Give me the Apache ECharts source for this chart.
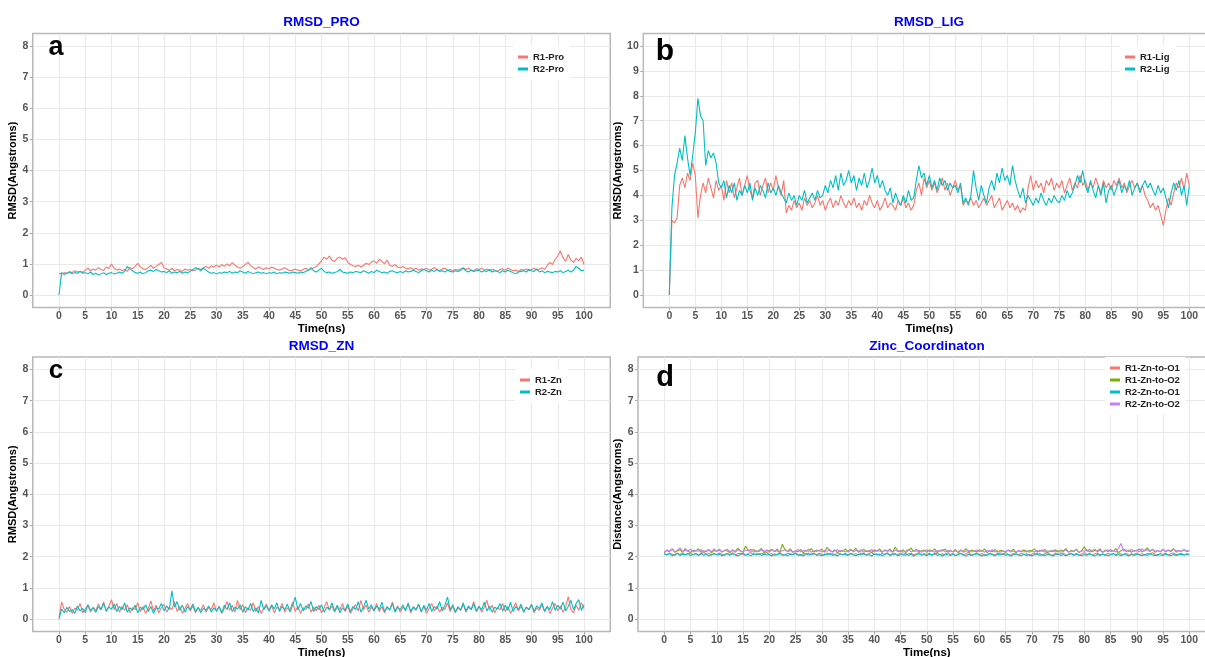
<!DOCTYPE html>
<html><head><meta charset="utf-8">
<script src="https://cdn.jsdelivr.net/npm/echarts@6/dist/echarts.min.js"></script>
<style>html,body{margin:0;padding:0;background:#fff}#c{width:1205px;height:657px}</style>
</head><body><div id="c"></div><script>
// ---------- DATA ----------
const sampleStepNs = 0.5; // one value every 0.5 ns, 0..100 ns
const xTickValues = [0,5,10,15,20,25,30,35,40,45,50,55,60,65,70,75,80,85,90,95,100];
const yTicks8 = [0,1,2,3,4,5,6,7,8];
const yTicks10 = [0,1,2,3,4,5,6,7,8,9,10];
const panelTitles = ['RMSD_PRO','RMSD_LIG','RMSD_ZN','Zinc_Coordinaton'];
const panelLetters = ['a','b','c','d'];
const yNames = ['RMSD(Angstroms)','RMSD(Angstroms)','RMSD(Angstroms)','Distance(Angstroms)'];
const xName = 'Time(ns)';

const r1Pro = [0.70,0.68,0.72,0.70,0.75,0.72,0.78,0.74,0.76,0.73,
0.80,0.86,0.78,0.84,0.80,0.88,0.82,0.79,0.90,0.85,
1.00,0.86,0.80,0.84,0.78,0.82,0.76,0.88,0.85,0.92,
1.02,0.90,0.84,0.82,0.88,0.95,0.86,0.92,0.98,1.05,
0.88,0.84,0.80,0.86,0.78,0.82,0.80,0.76,0.84,0.80,
0.82,0.78,0.80,0.86,0.82,0.88,0.92,0.86,0.94,0.90,
0.96,0.90,0.98,0.92,1.00,0.94,1.04,0.96,0.90,0.86,
0.92,0.98,1.05,0.94,0.88,0.84,0.90,0.86,0.82,0.88,
0.84,0.90,0.86,0.82,0.80,0.84,0.88,0.82,0.78,0.80,
0.84,0.80,0.78,0.82,0.86,0.80,0.84,0.88,0.92,1.00,
1.10,1.22,1.15,1.25,1.12,1.08,1.18,1.22,1.15,1.20,
1.05,0.98,0.94,0.92,0.96,0.90,0.95,1.02,0.98,1.06,
1.10,1.02,1.15,1.08,1.00,1.12,0.96,0.92,0.98,0.90,
0.88,0.92,0.86,0.84,0.88,0.82,0.86,0.80,0.84,0.82,
0.86,0.80,0.84,0.88,0.82,0.78,0.84,0.86,0.80,0.82,
0.78,0.82,0.80,0.84,0.88,0.82,0.86,0.80,0.78,0.84,
0.82,0.86,0.80,0.84,0.78,0.82,0.80,0.76,0.82,0.84,
0.80,0.86,0.82,0.78,0.80,0.76,0.82,0.80,0.84,0.78,
0.82,0.86,0.80,0.84,0.88,0.82,0.95,1.05,0.98,1.15,
1.25,1.42,1.20,1.08,1.30,1.12,1.05,1.18,1.10,1.22,
0.98];
const r2Pro = [0.00,0.72,0.66,0.70,0.74,0.68,0.72,0.70,0.76,0.70,
0.72,0.68,0.74,0.66,0.70,0.64,0.68,0.72,0.66,0.70,
0.72,0.68,0.70,0.74,0.70,0.76,0.92,0.84,0.78,0.72,
0.70,0.74,0.68,0.72,0.78,0.80,0.76,0.82,0.78,0.74,
0.76,0.72,0.78,0.70,0.74,0.72,0.76,0.70,0.74,0.72,
0.76,0.82,0.88,0.84,0.78,0.86,0.80,0.74,0.70,0.72,
0.68,0.72,0.70,0.74,0.72,0.76,0.70,0.74,0.72,0.78,
0.74,0.70,0.76,0.72,0.68,0.72,0.74,0.70,0.72,0.68,
0.72,0.70,0.74,0.68,0.72,0.70,0.74,0.72,0.70,0.74,
0.72,0.70,0.74,0.72,0.76,0.80,0.88,0.78,0.74,0.80,
0.86,0.76,0.72,0.74,0.70,0.72,0.76,0.82,0.74,0.72,
0.70,0.74,0.72,0.76,0.74,0.72,0.78,0.74,0.70,0.76,
0.72,0.80,0.76,0.72,0.74,0.70,0.76,0.78,0.74,0.72,
0.76,0.72,0.78,0.74,0.76,0.80,0.76,0.72,0.78,0.82,
0.78,0.74,0.80,0.76,0.82,0.76,0.78,0.74,0.80,0.76,
0.74,0.78,0.76,0.80,0.86,0.78,0.74,0.80,0.76,0.78,
0.80,0.74,0.78,0.76,0.82,0.74,0.78,0.76,0.72,0.78,
0.74,0.80,0.76,0.72,0.68,0.74,0.76,0.78,0.74,0.82,
0.78,0.76,0.84,0.74,0.78,0.72,0.76,0.74,0.72,0.76,
0.74,0.78,0.72,0.76,0.80,0.74,0.80,0.92,0.86,0.78,
0.80];
const r1Lig = [0.00,3.00,2.90,3.10,4.40,4.70,4.30,4.90,4.60,5.30,
4.80,3.10,4.00,4.50,4.10,4.70,4.30,3.90,4.60,4.20,
4.40,3.80,4.60,4.10,4.50,3.90,4.30,4.70,4.00,4.40,
4.80,4.20,3.90,4.50,4.60,4.00,4.40,4.70,4.10,4.50,
4.20,4.80,4.30,4.00,4.60,3.30,3.60,3.40,3.80,3.50,
3.70,3.40,3.90,3.60,3.80,3.50,3.70,4.00,3.60,3.80,
3.40,3.70,3.90,3.50,3.80,3.60,4.00,3.70,3.50,3.80,
3.60,3.90,3.50,3.70,3.40,3.80,3.60,4.00,3.70,3.50,
3.80,3.40,3.60,3.90,3.50,3.70,3.60,3.40,3.80,3.60,
3.90,3.50,3.70,3.40,3.60,4.20,4.50,4.00,4.70,4.30,
4.60,4.20,4.50,4.10,4.40,4.70,4.20,4.50,4.00,4.30,
4.60,4.20,4.40,3.60,3.80,3.70,3.90,3.60,3.80,3.50,
3.70,3.90,3.60,3.80,4.00,3.50,3.70,3.90,3.40,3.60,
3.80,3.50,3.70,3.40,3.60,3.30,3.50,3.40,4.30,4.80,
4.20,4.60,4.30,4.50,4.10,4.60,4.40,4.70,4.20,4.50,
4.30,4.60,4.10,4.40,4.70,4.20,4.50,4.30,4.80,4.40,
4.60,4.20,4.50,4.30,4.70,4.40,4.10,4.60,4.30,4.50,
4.20,4.60,4.40,4.70,4.30,4.50,4.10,4.40,4.60,4.30,
4.50,4.20,4.40,4.00,3.80,3.50,3.70,3.40,3.60,3.20,
2.80,3.40,3.90,3.60,4.10,4.50,4.30,4.70,4.20,4.90,
4.40];
const r2Lig = [0.00,3.50,4.80,5.30,5.90,5.40,6.40,5.50,4.80,5.60,
6.50,7.90,7.20,7.00,5.20,5.80,5.50,5.70,5.30,4.50,
4.30,4.60,3.90,4.40,4.10,4.50,3.80,4.20,4.00,4.40,
4.10,4.50,3.80,4.30,4.00,4.40,4.20,3.90,4.50,4.10,
4.30,4.00,4.40,4.10,3.90,3.70,4.10,3.80,4.00,3.60,
4.00,3.80,4.20,3.70,3.90,4.10,3.80,4.20,3.90,4.00,
4.40,4.10,4.60,4.30,4.80,4.20,4.90,4.40,4.60,5.00,
4.50,4.80,4.20,4.70,4.40,4.90,4.30,4.60,5.10,4.50,
4.80,4.30,4.60,4.20,4.00,4.30,3.70,4.10,3.80,3.60,
4.00,3.70,4.20,3.80,3.90,4.60,5.20,4.70,4.90,4.40,
4.80,4.30,4.60,4.20,4.70,4.40,4.60,4.20,4.50,4.30,
4.40,4.10,4.50,3.70,3.90,3.60,4.00,5.00,4.30,3.80,
4.40,4.00,3.70,4.30,4.60,4.20,4.90,4.50,5.10,4.60,
4.80,4.40,5.20,4.60,4.20,3.90,4.30,3.70,4.00,3.80,
3.60,3.90,3.70,4.10,3.80,3.60,3.90,3.70,4.00,3.80,
3.70,4.00,3.80,4.20,3.90,4.10,4.40,4.80,4.50,5.00,
4.40,4.10,4.60,4.20,3.90,4.40,4.00,4.50,3.70,4.20,
4.40,4.00,4.30,4.60,4.10,4.40,4.20,4.60,4.00,4.30,
4.50,4.10,4.40,4.60,4.30,4.50,4.20,4.00,4.40,4.10,
4.30,3.90,3.50,4.10,4.50,4.20,4.60,4.00,4.40,3.60,
4.40];
const r1Zn = [0.05,0.55,0.30,0.22,0.40,0.18,0.35,0.28,0.50,0.20,
0.32,0.45,0.22,0.38,0.26,0.48,0.30,0.55,0.24,0.42,
0.62,0.30,0.50,0.22,0.40,0.28,0.46,0.20,0.36,0.30,
0.52,0.24,0.40,0.18,0.34,0.58,0.26,0.44,0.20,0.36,
0.48,0.22,0.38,0.30,0.56,0.24,0.40,0.18,0.34,0.50,
0.26,0.42,0.20,0.36,0.28,0.46,0.22,0.38,0.30,0.52,
0.24,0.40,0.18,0.34,0.56,0.28,0.44,0.22,0.60,0.30,
0.46,0.20,0.36,0.28,0.52,0.24,0.40,0.18,0.34,0.48,
0.26,0.42,0.20,0.38,0.30,0.50,0.22,0.36,0.28,0.54,
0.24,0.40,0.18,0.36,0.30,0.48,0.22,0.38,0.26,0.44,
0.20,0.36,0.56,0.28,0.42,0.22,0.38,0.30,0.50,0.24,
0.40,0.18,0.34,0.46,0.26,0.60,0.30,0.44,0.22,0.38,
0.28,0.50,0.24,0.40,0.20,0.36,0.30,0.54,0.26,0.42,
0.22,0.38,0.30,0.48,0.20,0.36,0.28,0.46,0.24,0.40,
0.18,0.34,0.50,0.26,0.42,0.22,0.38,0.30,0.52,0.24,
0.40,0.20,0.36,0.28,0.46,0.22,0.38,0.30,0.56,0.26,
0.42,0.22,0.38,0.60,0.28,0.44,0.20,0.36,0.30,0.50,
0.24,0.40,0.18,0.34,0.52,0.26,0.42,0.22,0.38,0.30,
0.48,0.20,0.36,0.28,0.46,0.24,0.40,0.18,0.34,0.50,
0.26,0.42,0.22,0.38,0.72,0.30,0.20,0.44,0.28,0.52,
0.34];
const r2Zn = [0.00,0.32,0.20,0.38,0.24,0.30,0.18,0.42,0.26,0.34,
0.20,0.46,0.28,0.36,0.22,0.40,0.30,0.50,0.26,0.38,
0.32,0.48,0.24,0.40,0.30,0.52,0.22,0.36,0.28,0.44,
0.20,0.38,0.30,0.46,0.24,0.40,0.18,0.36,0.32,0.50,
0.26,0.42,0.30,0.90,0.38,0.56,0.28,0.44,0.22,0.40,
0.30,0.48,0.24,0.38,0.20,0.34,0.28,0.42,0.22,0.36,
0.26,0.40,0.20,0.44,0.30,0.52,0.24,0.38,0.32,0.46,
0.22,0.40,0.28,0.50,0.24,0.36,0.20,0.60,0.30,0.42,
0.26,0.46,0.32,0.52,0.24,0.40,0.30,0.48,0.22,0.44,
0.70,0.30,0.50,0.26,0.42,0.34,0.56,0.24,0.40,0.30,
0.46,0.22,0.38,0.30,0.52,0.26,0.44,0.20,0.36,0.28,
0.48,0.24,0.40,0.30,0.56,0.22,0.38,0.60,0.32,0.46,
0.26,0.42,0.30,0.54,0.24,0.40,0.28,0.50,0.22,0.38,
0.30,0.46,0.26,0.52,0.24,0.40,0.30,0.48,0.22,0.44,
0.28,0.50,0.24,0.40,0.32,0.56,0.26,0.44,0.70,0.30,
0.46,0.22,0.40,0.28,0.52,0.26,0.42,0.30,0.48,0.24,
0.40,0.30,0.54,0.26,0.42,0.22,0.38,0.32,0.50,0.26,
0.44,0.28,0.54,0.24,0.40,0.30,0.48,0.22,0.38,0.30,
0.46,0.26,0.42,0.34,0.52,0.24,0.40,0.30,0.56,0.28,
0.44,0.32,0.54,0.26,0.40,0.60,0.30,0.50,0.62,0.28,
0.46];
const r1ZnO1 = [2.10,2.06,2.12,2.08,2.04,2.11,2.07,2.13,2.05,2.09,
2.12,2.06,2.10,2.04,2.08,2.14,2.07,2.11,2.05,2.09,
2.06,2.12,2.08,2.04,2.10,2.07,2.13,2.05,2.09,2.11,
2.07,2.04,2.10,2.13,2.06,2.09,2.05,2.11,2.08,2.14,
2.06,2.10,2.04,2.08,2.12,2.07,2.05,2.11,2.09,2.06,
2.13,2.07,2.04,2.10,2.08,2.12,2.05,2.09,2.06,2.11,
2.08,2.04,2.12,2.07,2.10,2.05,2.13,2.08,2.06,2.10,
2.04,2.11,2.07,2.09,2.05,2.12,2.08,2.06,2.10,2.14,
2.06,2.09,2.04,2.11,2.07,2.13,2.05,2.10,2.08,2.06,
2.12,2.07,2.04,2.09,2.11,2.06,2.08,2.13,2.05,2.10,
2.07,2.11,2.04,2.08,2.12,2.06,2.09,2.05,2.13,2.07,
2.10,2.04,2.08,2.11,2.06,2.09,2.14,2.05,2.08,2.12,
2.06,2.10,2.04,2.07,2.11,2.08,2.05,2.12,2.09,2.06,
2.13,2.07,2.04,2.10,2.08,2.05,2.11,2.07,2.09,2.04,
2.08,2.12,2.06,2.10,2.04,2.09,2.13,2.07,2.05,2.11,
2.06,2.09,2.12,2.04,2.08,2.11,2.06,2.10,2.05,2.08,
2.13,2.07,2.10,2.05,2.09,2.12,2.06,2.08,2.04,2.11,
2.07,2.10,2.05,2.13,2.08,2.06,2.11,2.04,2.09,2.07,
2.12,2.06,2.09,2.05,2.10,2.08,2.13,2.06,2.04,2.10,
2.07,2.11,2.05,2.09,2.12,2.06,2.08,2.10,2.05,2.09,
2.08];
const r1ZnO2 = [2.12,2.20,2.16,2.24,2.14,2.18,2.22,2.15,2.26,2.17,
2.13,2.21,2.18,2.25,2.14,2.19,2.16,2.23,2.12,2.20,
2.17,2.24,2.15,2.21,2.18,2.13,2.22,2.16,2.27,2.19,
2.14,2.34,2.20,2.17,2.23,2.15,2.19,2.26,2.13,2.21,
2.18,2.24,2.16,2.20,2.13,2.40,2.22,2.17,2.25,2.14,
2.19,2.16,2.23,2.12,2.20,2.17,2.26,2.15,2.21,2.18,
2.24,2.14,2.30,2.19,2.16,2.22,2.13,2.20,2.17,2.25,
2.15,2.21,2.18,2.27,2.14,2.19,2.23,2.16,2.20,2.13,
2.22,2.17,2.25,2.15,2.20,2.18,2.24,2.14,2.31,2.19,
2.16,2.22,2.13,2.20,2.27,2.17,2.23,2.15,2.19,2.21,
2.14,2.22,2.17,2.25,2.13,2.20,2.18,2.24,2.15,2.19,
2.16,2.23,2.12,2.20,2.17,2.26,2.14,2.21,2.18,2.15,
2.22,2.17,2.25,2.13,2.19,2.16,2.23,2.15,2.20,2.18,
2.14,2.21,2.17,2.24,2.13,2.19,2.16,2.22,2.15,2.20,
2.18,2.25,2.14,2.20,2.17,2.23,2.13,2.19,2.16,2.22,
2.15,2.21,2.18,2.26,2.14,2.20,2.17,2.24,2.13,2.19,
2.32,2.17,2.23,2.15,2.20,2.18,2.25,2.14,2.21,2.16,
2.22,2.17,2.26,2.13,2.19,2.24,2.16,2.21,2.14,2.20,
2.18,2.25,2.15,2.21,2.28,2.17,2.23,2.14,2.20,2.16,
2.24,2.15,2.21,2.18,2.26,2.14,2.20,2.17,2.23,2.16,
2.20];
const r2ZnO1 = [2.08,2.05,2.10,2.03,2.07,2.11,2.04,2.08,2.06,2.10,
2.03,2.07,2.09,2.05,2.11,2.04,2.08,2.02,2.06,2.10,
2.05,2.08,2.03,2.07,2.10,2.04,2.09,2.06,2.02,2.08,
2.11,2.05,2.07,2.03,2.09,2.06,2.10,2.04,2.08,2.05,
2.07,2.02,2.09,2.05,2.11,2.04,2.07,2.03,2.08,2.06,
2.10,2.04,2.07,2.02,2.09,2.05,2.08,2.11,2.04,2.06,
2.03,2.08,2.05,2.10,2.04,2.07,2.02,2.09,2.06,2.08,
2.04,2.10,2.06,2.03,2.08,2.05,2.11,2.04,2.07,2.02,
2.09,2.05,2.08,2.03,2.07,2.10,2.04,2.06,2.09,2.03,
2.07,2.05,2.10,2.04,2.08,2.02,2.06,2.09,2.05,2.07,
2.03,2.08,2.05,2.11,2.04,2.07,2.02,2.09,2.06,2.04,
2.08,2.03,2.07,2.10,2.05,2.02,2.08,2.04,2.06,2.09,
2.05,2.02,2.07,2.04,2.09,2.06,2.03,2.08,2.05,2.10,
2.04,2.07,2.02,2.06,2.09,2.05,2.03,2.08,2.04,2.07,
2.02,2.06,2.09,2.04,2.07,2.03,2.08,2.05,2.02,2.06,
2.09,2.04,2.07,2.03,2.06,2.10,2.04,2.08,2.05,2.03,
2.07,2.04,2.09,2.05,2.02,2.07,2.04,2.08,2.06,2.03,
2.06,2.09,2.04,2.07,2.03,2.08,2.05,2.02,2.07,2.04,
2.08,2.05,2.03,2.07,2.04,2.09,2.06,2.03,2.07,2.05,
2.04,2.08,2.05,2.03,2.07,2.04,2.06,2.08,2.05,2.07,
2.06];
const r2ZnO2 = [2.14,2.22,2.17,2.26,2.15,2.20,2.28,2.16,2.21,2.18,
2.24,2.15,2.20,2.17,2.23,2.14,2.19,2.22,2.16,2.25,
2.17,2.21,2.15,2.19,2.24,2.16,2.20,2.14,2.22,2.18,
2.15,2.21,2.18,2.24,2.14,2.19,2.16,2.22,2.17,2.20,
2.14,2.21,2.17,2.25,2.15,2.19,2.22,2.16,2.20,2.14,
2.18,2.23,2.15,2.20,2.17,2.24,2.14,2.19,2.16,2.21,
2.15,2.20,2.17,2.23,2.14,2.19,2.22,2.16,2.20,2.15,
2.18,2.24,2.15,2.20,2.17,2.22,2.14,2.19,2.16,2.23,
2.15,2.20,2.18,2.14,2.22,2.17,2.19,2.15,2.21,2.16,
2.20,2.14,2.18,2.23,2.15,2.19,2.17,2.21,2.14,2.18,
2.22,2.16,2.19,2.14,2.20,2.17,2.23,2.15,2.18,2.21,
2.15,2.19,2.16,2.22,2.14,2.18,2.20,2.15,2.17,2.21,
2.16,2.19,2.14,2.20,2.17,2.22,2.15,2.18,2.14,2.19,
2.16,2.21,2.15,2.18,2.14,2.20,2.17,2.15,2.19,2.14,
2.18,2.15,2.20,2.16,2.22,2.14,2.18,2.16,2.21,2.15,
2.19,2.14,2.17,2.21,2.15,2.18,2.16,2.23,2.14,2.19,
2.17,2.22,2.15,2.19,2.24,2.16,2.20,2.14,2.18,2.22,
2.16,2.20,2.15,2.26,2.42,2.18,2.22,2.16,2.24,2.17,
2.21,2.15,2.25,2.18,2.22,2.16,2.24,2.17,2.20,2.15,
2.23,2.17,2.21,2.15,2.24,2.18,2.20,2.16,2.22,2.18,
2.19];

// ---------- CHART ----------
const RED = '#F8766D', GREEN = '#7CAE00', CYAN = '#00BFC4', PURPLE = '#C77CFF';
const FONT = '"Liberation Sans", Arial, sans-serif';
const gridBoxes = [
  {left: 32.75, top: 33.5, width: 577.5, height: 274},
  {left: 643.3, top: 33.5, width: 572, height: 274},
  {left: 32.75, top: 357, width: 577.5, height: 274.5},
  {left: 638, top: 357, width: 577.5, height: 274.5}
];
const yRanges = [[-0.4, 8.4], [-0.5, 10.5], [-0.4, 8.4], [-0.4, 8.4]];
const yTickSets = [yTicks8, yTicks10, yTicks8, yTicks8];
const yNameGaps = [10.5, 15, 10.5, 10];

const grids = gridBoxes.map(b => Object.assign({
  show: true, backgroundColor: '#fff', borderColor: '#b8b8b8', borderWidth: 1.5,
  containLabel: false, outerBoundsMode: 'none'
}, b));

const gridLineStyle = {color: '#e9e9e9', width: 1};
const xAxes = gridBoxes.map((b, i) => ({
  type: 'value', gridIndex: i, min: -5, max: 105, splitNumber: 44, minInterval: 2.5, maxInterval: 2.5,
  name: xName, nameLocation: 'middle', nameGap: 12,
  nameTextStyle: {fontFamily: FONT, fontWeight: 'bold', fontSize: 11.5, color: '#000'},
  axisLine: {show: false, onZero: false},
  axisTick: {show: true, customValues: xTickValues, length: 3, lineStyle: {color: '#a8a8a8', width: 1}},
  axisLabel: {customValues: xTickValues, margin: 3, fontFamily: FONT, fontWeight: 'bold', fontSize: 10.5, color: '#555'},
  splitLine: {show: true, lineStyle: gridLineStyle}
}));
const yAxes = gridBoxes.map((b, i) => ({
  type: 'value', gridIndex: i, min: yRanges[i][0], max: yRanges[i][1],
  splitNumber: Math.round((yRanges[i][1] - yRanges[i][0]) / 0.5), minInterval: 0.5, maxInterval: 0.5,
  name: yNames[i], nameLocation: 'middle', nameGap: yNameGaps[i], nameRotate: 90,
  nameTextStyle: {fontFamily: FONT, fontWeight: 'bold', fontSize: 11, color: '#000'},
  axisLine: {show: false, onZero: false},
  axisTick: {show: true, customValues: yTickSets[i], length: 3, lineStyle: {color: '#a8a8a8', width: 1}},
  axisLabel: {customValues: yTickSets[i], margin: 4.5, fontFamily: FONT, fontWeight: 'bold', fontSize: 10.5, color: '#555'},
  splitLine: {show: true, lineStyle: gridLineStyle}
}));

function lineSeries(name, values, gi, color) {
  return {
    name: name, type: 'line', xAxisIndex: gi, yAxisIndex: gi,
    data: values.map((v, k) => [k * sampleStepNs, v]),
    symbol: 'none', showSymbol: false, animation: false, silent: true,
    lineStyle: {width: 1.1, color: color}, itemStyle: {color: color}
  };
}
const series = [
  lineSeries('R1-Pro', r1Pro, 0, RED), lineSeries('R2-Pro', r2Pro, 0, CYAN),
  lineSeries('R1-Lig', r1Lig, 1, RED), lineSeries('R2-Lig', r2Lig, 1, CYAN),
  lineSeries('R1-Zn', r1Zn, 2, RED), lineSeries('R2-Zn', r2Zn, 2, CYAN),
  lineSeries('R1-Zn-to-O1', r1ZnO1, 3, RED), lineSeries('R1-Zn-to-O2', r1ZnO2, 3, GREEN),
  lineSeries('R2-Zn-to-O1', r2ZnO1, 3, CYAN), lineSeries('R2-Zn-to-O2', r2ZnO2, 3, PURPLE)
];

function legendAt(names, left, top) {
  return {
    data: names, orient: 'vertical', left: left, top: top, padding: [5, 6, 5, 5],
    itemGap: 0, itemWidth: 10, itemHeight: 3, icon: 'rect', backgroundColor: '#fff',
    selectedMode: false, z: 20,
    textStyle: {fontFamily: FONT, fontWeight: 'bold', fontSize: 9.5, color: '#222', lineHeight: 12}
  };
}
const legends = [
  legendAt(['R1-Pro', 'R2-Pro'], 513, 46),
  legendAt(['R1-Lig', 'R2-Lig'], 1120, 46),
  legendAt(['R1-Zn', 'R2-Zn'], 515, 369),
  legendAt(['R1-Zn-to-O1', 'R1-Zn-to-O2', 'R2-Zn-to-O1', 'R2-Zn-to-O2'], 1105, 357)
];

const titlePos = [[321.5, 22], [929, 22], [321.5, 346], [927, 346]];
const letterPos = [[56, 48, 27], [665, 52, 30], [56, 370.5, 26], [665, 377.5, 29]];
const graphics = [];
panelTitles.forEach((t, i) => graphics.push({
  type: 'text', x: titlePos[i][0], y: titlePos[i][1], z: 30,
  style: {text: t, fill: '#0000ff', font: 'bold 13.5px ' + FONT, textAlign: 'center', textVerticalAlign: 'middle'}
}));
panelLetters.forEach((t, i) => graphics.push({
  type: 'text', x: letterPos[i][0], y: letterPos[i][1], z: 30,
  style: {text: t, fill: '#000', font: 'bold ' + letterPos[i][2] + 'px "Liberation Sans", Arial, sans-serif', textAlign: 'center', textVerticalAlign: 'middle'}
}));

const chart = echarts.init(document.getElementById('c'), null, {renderer: 'canvas'});
chart.setOption({
  backgroundColor: '#fff', animation: false,
  grid: grids, xAxis: xAxes, yAxis: yAxes, series: series, legend: legends, graphic: graphics
});
</script></body></html>
